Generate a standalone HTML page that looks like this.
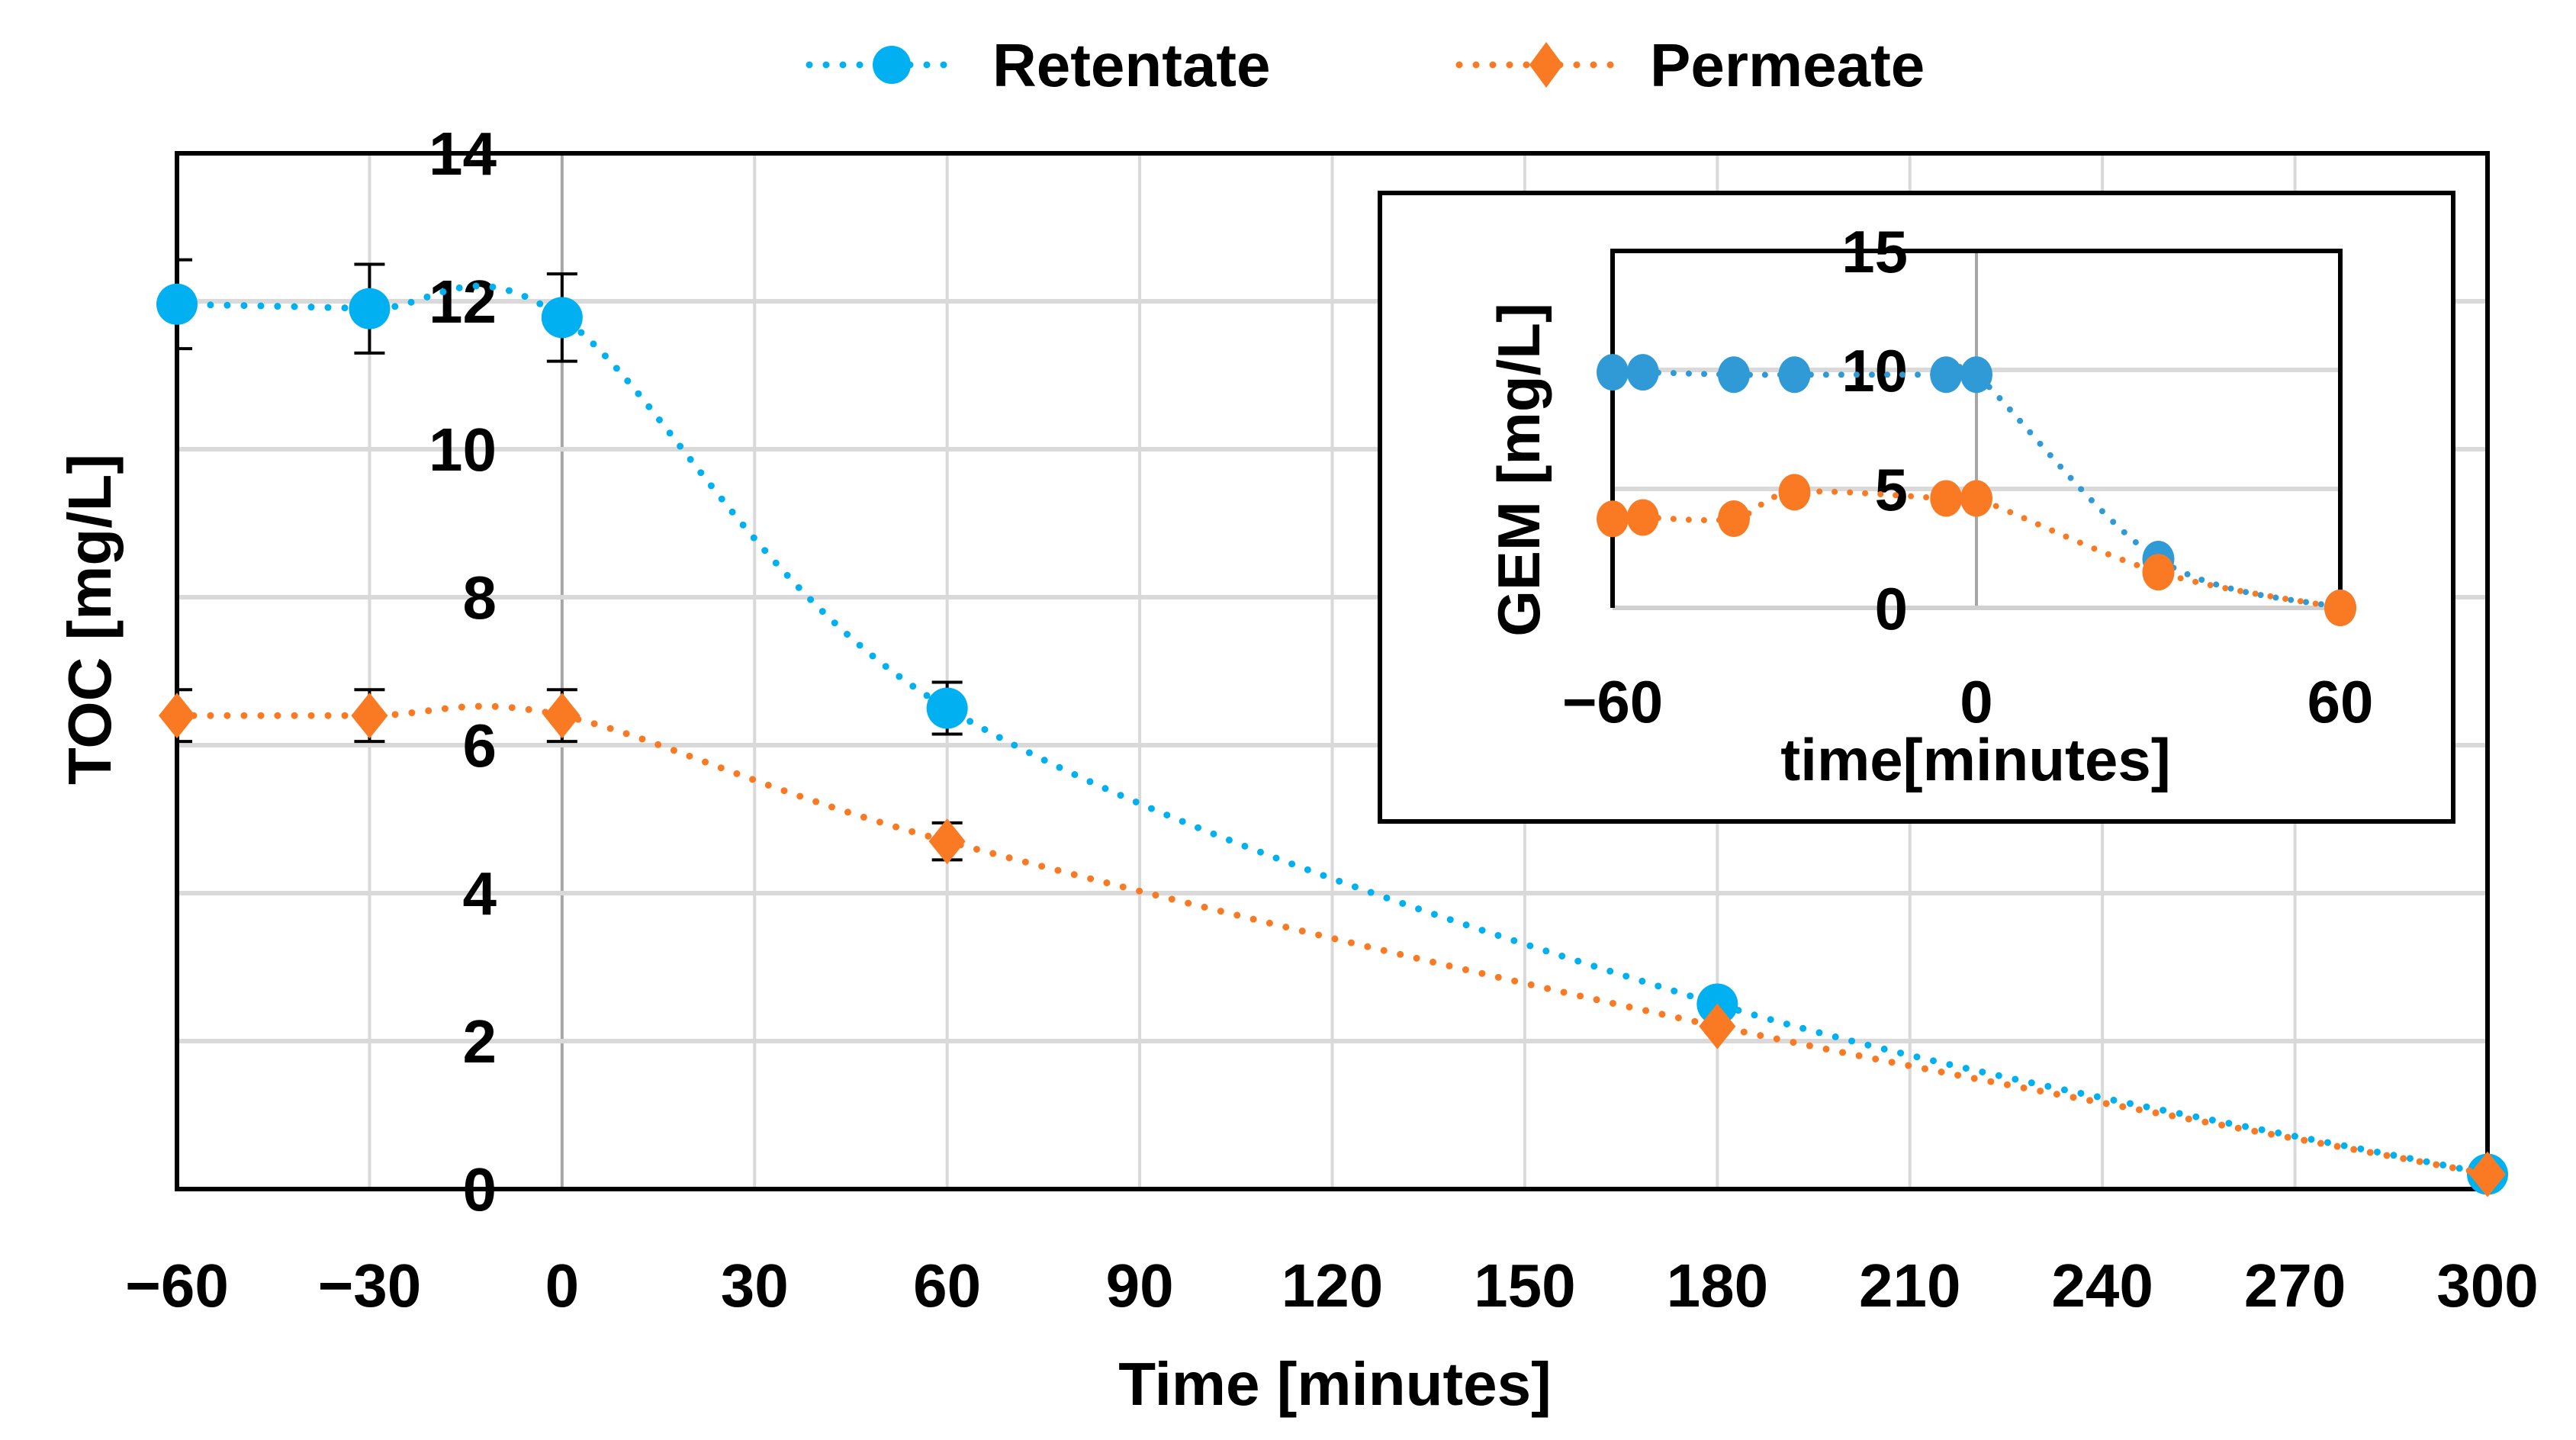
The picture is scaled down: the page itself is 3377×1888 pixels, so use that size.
<!DOCTYPE html>
<html><head><meta charset="utf-8"><style>
html,body{margin:0;padding:0;background:#fff;}
svg{display:block;font-family:"Liberation Sans",sans-serif;font-weight:bold;}
</style></head><body>
<svg id="chart" width="3377" height="1888" viewBox="0 0 3377 1888" xmlns="http://www.w3.org/2000/svg"></svg>
<script>
// ---- main chart data ----
const times = [-60, -30, 0, 60, 180, 300];
const retentate = [11.96, 11.9, 11.78, 6.5, 2.5, 0.2];
const retentateErr = [0.6, 0.6, 0.59, 0.35, 0, 0];
const permeate = [6.4, 6.4, 6.4, 4.7, 2.2, 0.2];
const permeateErr = [0.35, 0.35, 0.35, 0.25, 0, 0];
const xTicks = [-60, -30, 0, 30, 60, 90, 120, 150, 180, 210, 240, 270, 300];
const yTicks = [0, 2, 4, 6, 8, 10, 12, 14];
// ---- inset data ----
const insetTimes = [-60, -55, -40, -30, -5, 0, 30, 60];
const insetRetentate = [9.9, 9.9, 9.8, 9.8, 9.8, 9.8, 2.05, 0];
const insetPermeate = [3.74, 3.8, 3.75, 4.86, 4.6, 4.6, 1.5, 0];
const insetXTicks = [-60, 0, 60];
const insetYTicks = [0, 5, 10, 15];

const NS = "http://www.w3.org/2000/svg";
const svg = document.getElementById("chart");
function mk(tag, attrs, parent) {
  const e = document.createElementNS(NS, tag);
  for (const k in attrs) e.setAttribute(k, attrs[k]);
  (parent || svg).appendChild(e);
  return e;
}
const BLUE = "#00b0f0", ORANGE = "#f97a22", IBLUE = "#2f9ad6";

const L = 232, R = 3261, T = 201, B = 1559;
const xs = v => L + (v + 60) / 360 * (R - L);
const ys = v => B - v / 14 * (B - T);
const iL = 2114, iR = 3068, iT = 329, iB = 797;
const ixs = v => iL + (v + 60) / 120 * (iR - iL);
const iys = v => iB - v / 15 * (iB - iT);

function smoothPath(px, py) {
  let d = "M" + px[0] + "," + py[0];
  for (let i = 0; i < px.length - 1; i++) {
    const i0 = Math.max(0, i - 1), i3 = Math.min(px.length - 1, i + 2);
    const c1x = px[i] + (px[i + 1] - px[i0]) / 6, c1y = py[i] + (py[i + 1] - py[i0]) / 6;
    const c2x = px[i + 1] - (px[i3] - px[i]) / 6, c2y = py[i + 1] - (py[i3] - py[i]) / 6;
    d += " C" + c1x + "," + c1y + " " + c2x + "," + c2y + " " + px[i + 1] + "," + py[i + 1];
  }
  return d;
}

const defs = mk("defs", {});
const cp = mk("clipPath", {id: "plotclip"}, defs);
mk("rect", {x: L, y: T - 40, width: R - L + 40, height: B - T + 80}, cp);

const grid = mk("g", {});


xTicks.forEach(t => {
  const l = mk("line", {x1: xs(t), x2: xs(t), y1: T, y2: B, stroke: t === 0 ? "#a6a6a6" : "#d9d9d9", "stroke-width": 4}, grid);
  
  
});
yTicks.forEach(t => {
  const l = mk("line", {x1: L, x2: R, y1: ys(t), y2: ys(t), stroke: "#d9d9d9", "stroke-width": 6}, grid);
  
  
});
const frame = mk("rect", {x: L, y: T, width: R - L, height: B - T, fill: "none", stroke: "#000", "stroke-width": 6});



yTicks.forEach(t => {
  const tx = mk("text", {x: 651, y: ys(t) + 28, "font-size": 80, "text-anchor": "end", fill: "#000"});
  tx.textContent = t;
  
  
});
xTicks.forEach(t => {
  const tx = mk("text", {x: xs(t), y: 1713, "font-size": 80, "text-anchor": "middle", fill: "#000"});
  tx.textContent = t < 0 ? "\u2212" + (-t) : t;
  
  
});
const xt = mk("text", {x: 1750, y: 1842, "font-size": 80, "text-anchor": "middle", fill: "#000"});
xt.textContent = "Time [minutes]";


const yt = mk("text", {x: 0, y: 0, "font-size": 80, "text-anchor": "middle", fill: "#000", transform: "translate(145,812) rotate(-90)"});
yt.textContent = "TOC [mg/L]";



function drawSeries(vals, errs, color, shape, name) {
  const outer = mk("g", {});
  
  
  const g = mk("g", {"clip-path": "url(#plotclip)"}, outer);
  const px = times.map(xs), py = vals.map(ys);
  const p = mk("path", {d: smoothPath(px, py), fill: "none", stroke: color, "stroke-width": 9, "stroke-dasharray": "0 22", "stroke-linecap": "round"}, g);
  
  
  times.forEach((t, i) => {
    if (errs[i] > 0) {
      const x = xs(t), y1 = ys(vals[i] + errs[i]), y2 = ys(vals[i] - errs[i]);
      const eb = mk("path", {d: `M${x},${y1}V${y2}M${x - 20},${y1}H${x + 20}M${x - 20},${y2}H${x + 20}`, stroke: "#000", "stroke-width": 4, fill: "none"}, g);
      
      
    }
  });
  times.forEach((t, i) => {
    const x = xs(t), y = ys(vals[i]);
    let m;
    if (shape === "circle") m = mk("circle", {cx: x, cy: y, r: 27, fill: color}, outer);
    else m = mk("path", {d: `M${x},${y - 30}L${x + 24},${y}L${x},${y + 30}L${x - 24},${y}Z`, fill: color}, outer);
    
    
  });
}
drawSeries(retentate, retentateErr, BLUE, "circle", "retentate");
drawSeries(permeate, permeateErr, ORANGE, "diamond", "permeate");

const leg = mk("g", {});


[[BLUE, "circle", 1061, 1255, 1169, 1301, "Retentate"], [ORANGE, "diamond", 1913, 2115, 2027, 2163, "Permeate"]].forEach(e => {
  const g = mk("g", {}, leg);
  
  
  mk("line", {x1: e[2], x2: e[3], y1: 85, y2: 85, stroke: e[0], "stroke-width": 9, "stroke-dasharray": "0 22", "stroke-linecap": "round"}, g);
  if (e[1] === "circle") mk("circle", {cx: e[4], cy: 85, r: 25, fill: e[0]}, g);
  else mk("path", {d: `M${e[4]},${55}L${e[4] + 22},85L${e[4]},115L${e[4] - 22},85Z`, fill: e[0]}, g);
  const t = mk("text", {x: e[5], y: 113, "font-size": 80, fill: "#000"}, g);
  t.textContent = e[6];
});

const ins = mk("g", {});


const ibox = mk("rect", {x: 1809, y: 253, width: 1407, height: 824, fill: "#fff", stroke: "#000", "stroke-width": 6}, ins);


insetYTicks.forEach(t => {
  if (t > 0 && t < 15) mk("line", {x1: iL, x2: iR, y1: iys(t), y2: iys(t), stroke: "#d9d9d9", "stroke-width": 6}, ins);
});
mk("line", {x1: ixs(0), x2: ixs(0), y1: iT, y2: iB, stroke: "#a6a6a6", "stroke-width": 4}, ins);
mk("line", {x1: iL, x2: iR, y1: iB, y2: iB, stroke: "#d0d0d0", "stroke-width": 6}, ins);
mk("path", {d: `M${iL},${iB}V${iT}H${iR}V${iB}`, fill: "none", stroke: "#000", "stroke-width": 6}, ins);
insetYTicks.forEach(t => {
  const tx = mk("text", {x: 2501, y: iys(t) + 28, "font-size": 78, "text-anchor": "end", fill: "#000"}, ins);
  tx.textContent = t;
  
  
});
insetXTicks.forEach(t => {
  const tx = mk("text", {x: ixs(t), y: 947, "font-size": 78, "text-anchor": "middle", fill: "#000"}, ins);
  tx.textContent = t < 0 ? "\u2212" + (-t) : t;
  
  
});
const ixt = mk("text", {x: 2590, y: 1023, "font-size": 78, "text-anchor": "middle", fill: "#000"}, ins);
ixt.textContent = "time[minutes]";


const iyt = mk("text", {x: 0, y: 0, "font-size": 78, "text-anchor": "middle", fill: "#000", transform: "translate(2018,616) rotate(-90)"}, ins);
iyt.textContent = "GEM [mg/L]";


[[insetRetentate, IBLUE, "inset-retentate"], [insetPermeate, ORANGE, "inset-permeate"]].forEach(s => {
  const g = mk("g", {}, ins);
  
  
  const px = insetTimes.map(ixs), py = s[0].map(iys);
  mk("path", {d: smoothPath(px, py), fill: "none", stroke: s[1], "stroke-width": 8, "stroke-dasharray": "0 20", "stroke-linecap": "round"}, g);
  insetTimes.forEach((t, i) => {
    const c = mk("ellipse", {cx: ixs(t), cy: iys(s[0][i]), rx: 21, ry: 24, fill: s[1]}, g);
    
    
  });
});
</script>
</body></html>
